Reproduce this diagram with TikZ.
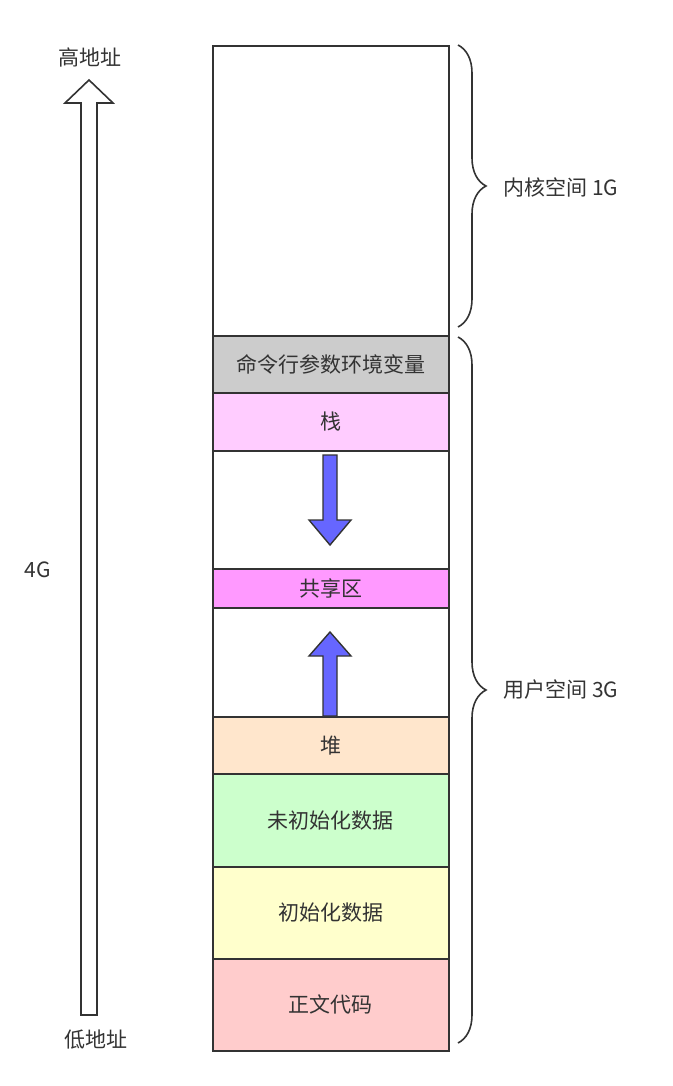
\documentclass[tikz,border=0pt]{standalone}
\usepackage{fontspec}
\setmainfont{Noto Sans CJK SC}
\usetikzlibrary{decorations.pathreplacing,shapes.arrows}
\begin{document}
\begin{tikzpicture}[x=1pt,y=-1pt,
  seg/.style={draw=black!80,line width=1.6pt,minimum width=236pt,inner sep=0pt,anchor=north west,font=\fontsize{21}{24}\selectfont,text=black!80},
  lbl/.style={font=\fontsize{21}{24}\selectfont,text=black!80},
  brc/.style={draw=black!80,line width=1.6pt,decorate,decoration={brace,amplitude=28pt,aspect=0.5}},
  blue arrow/.style={fill=blue!60,draw=black!80,line width=1.4pt}]
\useasboundingbox (0,0) rectangle (672,1086);
\node[seg,minimum height=290pt] (k) at (212,45) {};
\node[seg,minimum height=57pt,fill=black!20] (cmd) at (212,335) {命令行参数环境变量};
\node[seg,minimum height=58pt,fill={rgb,255:red,255;green,204;blue,255}] (stack) at (212,392) {栈};
\node[seg,minimum height=118pt] (b1) at (212,450) {};
\node[seg,minimum height=39pt,fill={rgb,255:red,255;green,153;blue,255}] (share) at (212,568) {共享区};
\node[seg,minimum height=109pt] (b2) at (212,607) {};
\node[seg,minimum height=57pt,fill={rgb,255:red,255;green,230;blue,204}] (heap) at (212,716) {堆};
\node[seg,minimum height=93pt,fill={rgb,255:red,204;green,255;blue,204}] (bss) at (212,773) {未初始化数据};
\node[seg,minimum height=92pt,fill={rgb,255:red,255;green,255;blue,204}] (data) at (212,866) {初始化数据};
\node[seg,minimum height=92pt,fill={rgb,255:red,255;green,204;blue,204}] (text) at (212,958) {正文代码};
% blue arrows
\draw[blue arrow] (323,455) -- (337,455) -- (337,520) -- (351,520) -- (330,545) -- (309,520) -- (323,520) -- cycle;
\draw[blue arrow] (323,716) -- (337,716) -- (337,656) -- (351,656) -- (330,632) -- (309,656) -- (323,656) -- cycle;
% big hollow arrow
\draw[draw=black!80,line width=1.6pt,fill=white] (81,1015) -- (97,1015) -- (97,103) -- (113,103) -- (89,80) -- (65,103) -- (81,103) -- cycle;
\node[lbl] (hi) at (90,57) {高地址};
\node[lbl] (lo) at (96,1040) {低地址};
\node[lbl] (g4) at (38,570) {4G};
% braces
\coordinate (kt) at (458,45); \coordinate (kb) at (458,327);
\coordinate (ut) at (458,337); \coordinate (ub) at (458,1043);
\draw[brc] (kt) -- (kb);
\draw[brc] (ut) -- (ub);
\node[lbl,anchor=west] (kl) at (500,187) {内核空间 1G};
\node[lbl,anchor=west] (ul) at (500,690) {用户空间 3G};
\end{tikzpicture}
\end{document}
